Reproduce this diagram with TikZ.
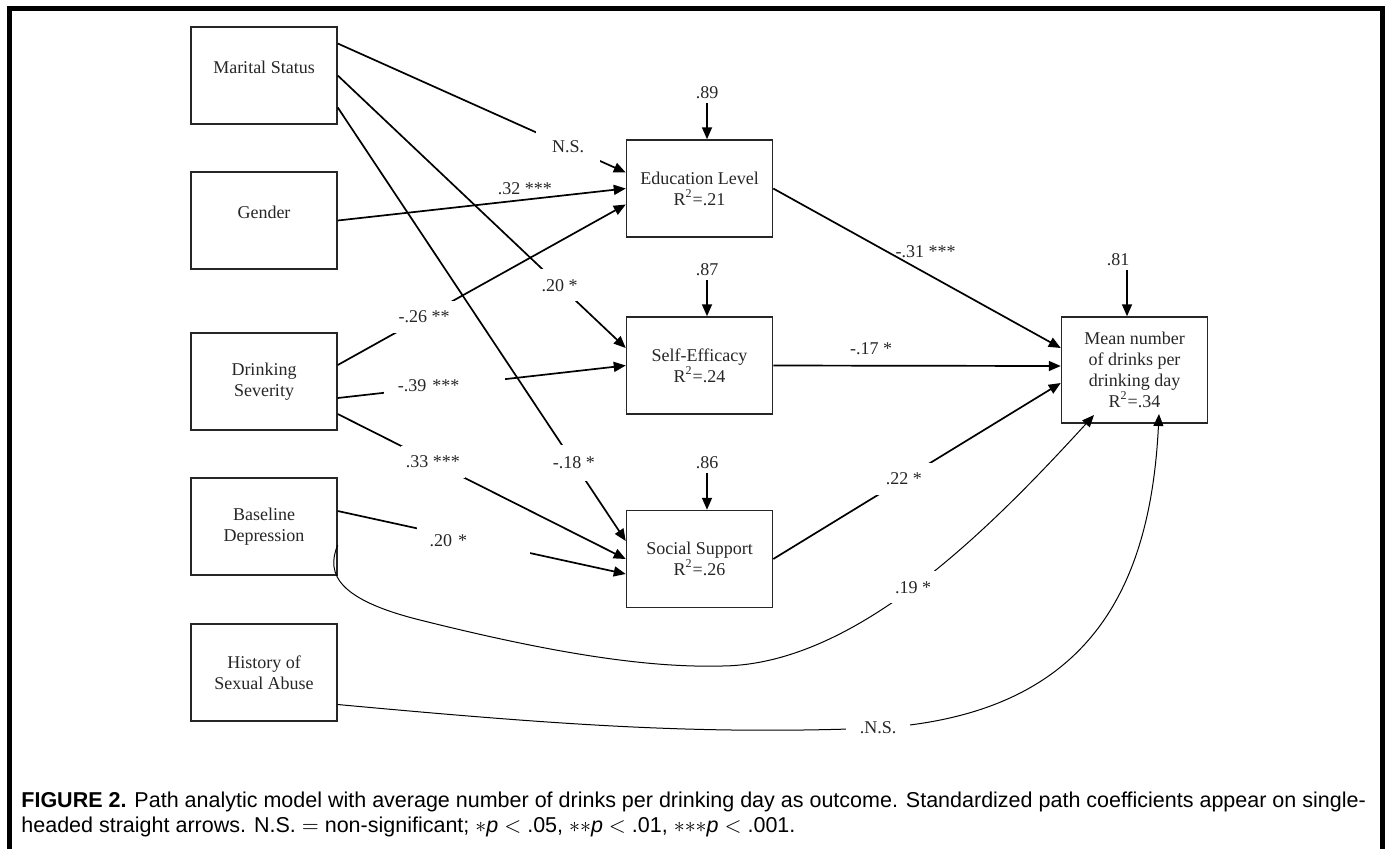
\documentclass[tikz,border=0pt]{standalone}
\usepackage{fontspec}
\setmainfont{Liberation Serif}
\setsansfont{Liberation Sans}
\usetikzlibrary{arrows.meta}

\begin{document}
\begin{tikzpicture}[x=0.5pt, y=-0.5pt,
  var/.style={draw=black!85, line width=0.75pt, minimum width=73pt, minimum height=48.5pt, inner sep=0pt, align=center, font=\fontsize{9}{10.5}\selectfont, text=black!85},
  oneline/.style={text height=6.5pt, text depth=8.8pt},
  link/.style={line width=0.85pt, -{Triangle[length=6pt,width=5pt]}},
  curvy/.style={line width=0.5pt, -{Triangle[length=6pt,width=5pt]}},
  coef/.style={fill=white, inner sep=0pt, minimum width=32pt, minimum height=16pt, font=\fontsize{9}{10.5}\selectfont, text=black!85},
  lbl/.style={inner sep=2pt, font=\fontsize{9}{10.5}\selectfont, text=black!85},
  err/.style={inner sep=2pt, font=\fontsize{9}{10.5}\selectfont, text=black!85}]
\useasboundingbox (0,0) rectangle (1385,848);

% frame
\draw[line width=2.5pt] (9.5,860) -- (9.5,8.5) -- (1382.5,8.5) -- (1382.5,860);

% predictors
\node[var, oneline] (ms) at (264,75.5) {Marital Status};
\node[var, oneline] (gd) at (264,220.5) {Gender};
\node[var] (ds) at (264,381.5) {Drinking\\Severity};
\node[var] (bd) at (264,526.5) {Baseline\\Depression};
\node[var] (hs) at (264,672.5) {History of\\Sexual Abuse};

% mediators and outcome
\node[var] (el) at (699.5,188.5) {Education Level\\R\textsuperscript{2}=.21};
\node[var] (se) at (699.5,365.5) {Self-Efficacy\\R\textsuperscript{2}=.24};
\node[var] (ss) at (699.5,559) {Social Support\\R\textsuperscript{2}=.26};
\node[var, minimum height=53pt] (mn) at (1134.5,370) {Mean number\\of drinks per\\drinking day\\R\textsuperscript{2}=.34};

% residuals
\foreach \nd/\rv in {el/.89, se/.87, ss/.86} {
  \node[err] (e\nd) at ([xshift=3.75pt, yshift=23.5pt]\nd.north) {\rv};
  \draw[link] (e\nd) -- ([xshift=3.75pt]\nd.north);
}
\node[err] (e4) at ([xshift=-8.25pt, yshift=28.5pt]mn.north) {.81};
\coordinate (t4) at ([xshift=-3.75pt]mn.north);
\draw[link] (t4 |- e4.south) -- (t4);

% paths
\draw[link] ([yshift=16pt]ms.east) -- node[coef, pos=0.8] (c1) {N.S.} ([yshift=8pt]el.west);
\draw[link] (ms.east) -- node[coef, pos=0.77] (c2) {.20 *} ([yshift=8.75pt]se.west);
\draw[link] ([yshift=-16pt]ms.east) -- node[coef, pos=0.82, minimum height=18pt] (c3) {-.18 *} ([yshift=9pt]ss.west);
\draw[link] (gd.east) -- node[lbl, above, pos=0.65] (c4) {.32 ***} (el.west);
\draw[link] ([yshift=8.25pt]ds.east) -- node[coef, pos=0.3] (c5) {-.26 **} ([yshift=-8pt]el.west);
\draw[link] ([yshift=-8.25pt]ds.east) -- node[coef, pos=0.37, text width=46.5pt, inner xsep=7pt, align=left] (c6) {-.39 ***} (se.west);
\draw[link] ([yshift=-16.25pt]ds.east) -- node[coef, pos=0.33] (c7) {.33 ***} (ss.west);
\draw[link] ([yshift=7.75pt]bd.east) -- node[coef, pos=0.47, text width=43.5pt, inner xsep=6.5pt, align=left] (c8) {.20 *} ([yshift=-7.5pt]ss.west);

\draw[link] (el.east) -- node[lbl, above=5pt, pos=0.53] (c9) {-.31 ***} ([yshift=11pt]mn.west);
\draw[link] (se.east) -- node[lbl, above=3pt, pos=0.34] (c10) {-.17 *} ([yshift=2pt]mn.west);
\draw[link] (ss.east) -- node[coef, pos=0.454] (c11) {.22 *} ([yshift=-6.5pt]mn.west);

\draw[curvy] ([yshift=-9.25pt]bd.east) .. controls (325,575) and (340,600) .. (420,620)
  .. controls (540,650) and (640,668) .. (720,666)
  .. controls (850,666) and (980,540) .. node[coef, pos=0.5] (c12) {.19 *} ([xshift=-20.25pt, yshift=-22.5pt]mn.center);
\draw[curvy] ([yshift=-16pt]hs.east) .. controls (560,725) and (700,735) .. (878,728) node[coef] (c13) {.N.S.}
  .. controls (1080,715) and (1150,600) .. ([xshift=12.25pt, yshift=-22pt]mn.center);

% caption
\node[anchor=base west, inner sep=0pt, font=\sffamily\fontsize{10.75}{12.5}\selectfont] (cap1) at (21,807)
  {\textbf{FIGURE 2.} Path analytic model with average number of drinks per drinking day as outcome. Standardized path coefficients appear on single-};
\node[anchor=base west, inner sep=0pt, font=\sffamily\fontsize{10.75}{12.5}\selectfont] (cap2) at (21,832)
  {headed straight arrows. N.S. $=$ non-significant; ${\ast}$\textit{p} $<$ .05, ${\ast}{\ast}$\textit{p} $<$ .01, ${\ast}{\ast}{\ast}$\textit{p} $<$ .001.};
\end{tikzpicture}
\end{document}
